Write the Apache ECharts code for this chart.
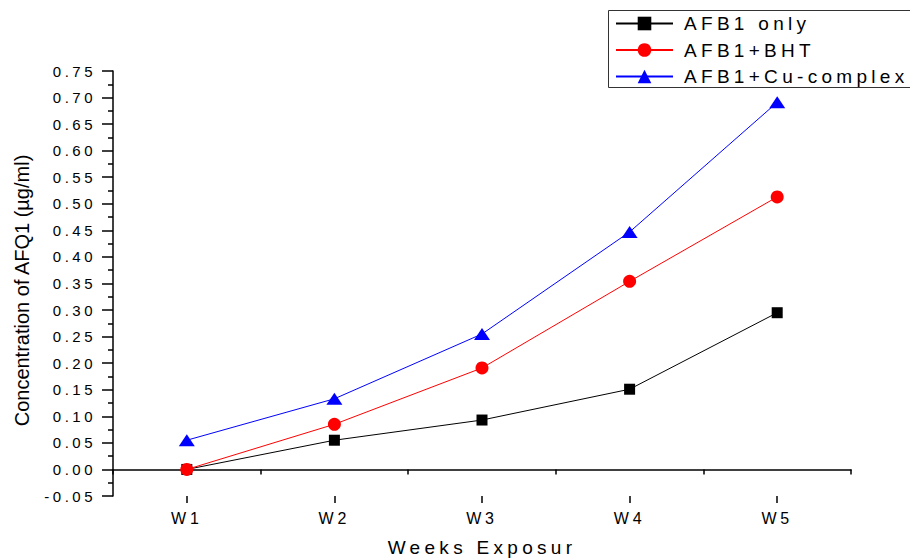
<!DOCTYPE html>
<html>
<head>
<meta charset="utf-8">
<script src="https://cdn.jsdelivr.net/npm/echarts@6/dist/echarts.min.js"></script>
<style>
  html, body { margin: 0; padding: 0; background: #fff; }
  #main { width: 910px; height: 558px; }
  #main text[style*="19px"] { letter-spacing: 4.3px; }
  #main text[style*="16px"] { letter-spacing: 3.8px; }
  #main text[style*="15px"] { letter-spacing: 3.5px; }
</style>
</head>
<body>
<div id="main"></div>
<script>
const categories = ['W1', 'W2', 'W3', 'W4', 'W5'];
const afb1Only = [0.000, 0.055, 0.093, 0.151, 0.295];
const afb1Bht = [0.000, 0.085, 0.191, 0.354, 0.513];
const afb1Cu = [0.055, 0.133, 0.255, 0.447, 0.691];
const seriesNames = ['AFB1 only', 'AFB1+BHT', 'AFB1+Cu-complex'];
const yTicks = { min: -0.05, max: 0.75, interval: 0.05 };

const FONT = 'Arial, "Liberation Sans", sans-serif';
const chart = echarts.init(document.getElementById('main'), null, { renderer: 'svg' });

const option = {
  animation: false,
  backgroundColor: '#fff',
  grid: { left: 113, right: 59, top: 71, bottom: 62, containLabel: false, outerBoundsMode: 'none' },
  legend: {
    orient: 'vertical',
    left: 610,
    top: 9,
    itemWidth: 57,
    itemHeight: 17,
    itemGap: 7.5,
    align: 'left',
    data: seriesNames,
    textStyle: { fontFamily: FONT, fontSize: 19, color: '#000', padding: [0, 0, 0, 6] }
  },
  graphic: [{
    type: 'rect',
    shape: { x: 608.5, y: 10.5, width: 310, height: 77 },
    style: { fill: 'none', stroke: '#333', lineWidth: 1 },
    silent: true,
    z: 100
  }],
  xAxis: [{
    type: 'category',
    data: categories,
    boundaryGap: true,
    position: 'bottom',
    name: 'Weeks Exposur',
    nameLocation: 'middle',
    nameGap: 42,
    nameTextStyle: { fontFamily: FONT, fontSize: 19, color: '#000' },
    axisLine: { show: true, lineStyle: { color: '#000', width: 1.5 } },
    axisTick: { show: true, length: 5, alignWithLabel: false, lineStyle: { color: '#000', width: 1.5 } },
    axisLabel: { fontFamily: FONT, fontSize: 16, color: '#000', margin: 14 },
    splitLine: { show: false }
  }, {
    type: 'category',
    data: categories,
    boundaryGap: true,
    position: 'bottom',
    axisLine: { show: false },
    axisTick: { show: true, length: 7, alignWithLabel: true, lineStyle: { color: '#000', width: 1.5 } },
    axisLabel: { show: false },
    splitLine: { show: false }
  }],
  yAxis: {
    type: 'value',
    min: yTicks.min,
    max: yTicks.max,
    interval: yTicks.interval,
    name: 'Concentration of AFQ1 (µg/ml)',
    nameLocation: 'middle',
    nameGap: 81,
    nameTextStyle: { fontFamily: FONT, fontSize: 20, color: '#000', padding: [0, 14, 0, 0] },
    axisLine: { show: true, lineStyle: { color: '#000', width: 1.5 } },
    axisTick: { show: true, length: 11, lineStyle: { color: '#000', width: 1.5 } },
    minorTick: { show: true, splitNumber: 2, length: 5, lineStyle: { color: '#000', width: 1.5 } },
    axisLabel: {
      fontFamily: FONT, fontSize: 15, color: '#000', margin: 17,
      formatter: v => v.toFixed(2)
    },
    splitLine: { show: false }
  },
  series: [{
    name: seriesNames[0],
    type: 'line',
    data: afb1Only,
    symbol: 'rect',
    symbolSize: 11,
    lineStyle: { color: '#000', width: 1 },
    itemStyle: { color: '#000' },
    z: 3
  }, {
    name: seriesNames[1],
    type: 'line',
    data: afb1Bht,
    symbol: 'circle',
    symbolSize: 13,
    lineStyle: { color: '#ff0000', width: 1 },
    itemStyle: { color: '#ff0000' },
    z: 4
  }, {
    name: seriesNames[2],
    type: 'line',
    data: afb1Cu,
    symbol: 'triangle',
    symbolSize: [16, 12],
    lineStyle: { color: '#0000ff', width: 1 },
    itemStyle: { color: '#0000ff' },
    z: 5
  }]
};
chart.setOption(option);
</script>
</body>
</html>
